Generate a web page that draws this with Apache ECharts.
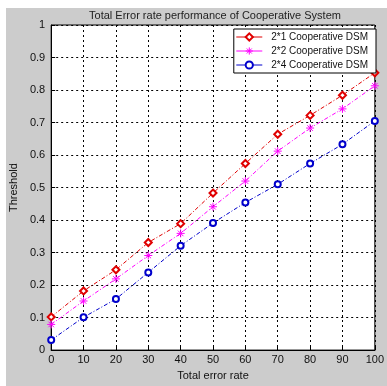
<!DOCTYPE html>
<html><head><meta charset="utf-8">
<script src="https://cdn.jsdelivr.net/npm/echarts@6/dist/echarts.min.js"></script>
<style>html,body{margin:0;padding:0;background:#fff}#c{width:387px;height:386px}</style>
</head><body><div id="c"></div>
<script>
var xCats = [0,10,20,30,40,50,60,70,80,90,100];
var s21 = [0.102,0.182,0.247,0.331,0.389,0.483,0.574,0.664,0.722,0.784,0.853];
var s22 = [0.079,0.151,0.219,0.291,0.359,0.441,0.520,0.612,0.683,0.742,0.813];
var s24 = [0.031,0.101,0.157,0.239,0.321,0.391,0.454,0.510,0.574,0.633,0.705];
var names = ['2*1 Cooperative DSM','2*2 Cooperative DSM','2*4 Cooperative DSM'];
var font = 'Liberation Sans, Arial, sans-serif';
function pairs(a){return xCats.map(function(x,i){return [x,a[i]];});}
var star = 'path://M0,-5L0,5M-5,0L5,0M-3.5,-3.5L3.5,3.5M-3.5,3.5L3.5,-3.5';
var chart = echarts.init(document.getElementById('c'));
chart.setOption({
  backgroundColor:'#ffffff',
  animation:false,
  graphic:[{type:'rect',z:-10,shape:{x:6,y:8,width:381,height:378},style:{fill:'#cccccc'}}],
  title:{text:'Total Error rate performance of Cooperative System',left:210,textAlign:'center',top:5,
    textStyle:{fontFamily:font,fontSize:11,fontWeight:'normal',color:'#222'}},
  grid:{left:44,right:10,top:25,bottom:28,show:true,backgroundColor:'#fff',borderColor:'#000',borderWidth:1},
  legend:{right:11,top:29,orient:'vertical',backgroundColor:'#fff',borderColor:'#000',borderWidth:1,
    padding:[3,8,3,2],itemGap:4,itemWidth:26,itemHeight:9,
    textStyle:{fontFamily:font,fontSize:10,color:'#111',padding:[0,0,0,4]},
    lineStyle:{type:'solid',width:1},itemStyle:{borderWidth:1}},
  xAxis:{type:'value',min:0,max:100,interval:10,name:'Total error rate',nameLocation:'middle',nameGap:16,
    nameTextStyle:{fontFamily:font,fontSize:11,color:'#111'},
    axisLine:{lineStyle:{color:'#000'}},axisTick:{inside:true,length:4,lineStyle:{color:'#000'}},
    axisLabel:{fontFamily:font,fontSize:11,color:'#111',margin:4},
    splitLine:{show:true,lineStyle:{color:'#000',type:[2,3],width:1}}},
  yAxis:{type:'value',min:0,max:1,interval:0.1,name:'Threshold',nameLocation:'middle',nameGap:26,
    nameTextStyle:{fontFamily:font,fontSize:11,color:'#111'},
    axisLine:{lineStyle:{color:'#000'}},axisTick:{inside:true,length:4,lineStyle:{color:'#000'}},
    axisLabel:{fontFamily:font,fontSize:11,color:'#111',margin:6},
    splitLine:{show:true,lineStyle:{color:'#000',type:[2,3],width:1}}},
  series:[
    {name:names[0],type:'line',data:pairs(s21),symbol:'emptyDiamond',symbolSize:7,
      itemStyle:{color:'#e00000',borderWidth:1},lineStyle:{color:'#e00000',width:1,type:[4,2,1,2]}},
    {name:names[1],type:'line',data:pairs(s22),symbol:star,symbolSize:8,
      itemStyle:{color:'#ff00ff',borderColor:'#ff00ff',borderWidth:1},lineStyle:{color:'#ff00ff',width:1,type:[4,2,1,2]}},
    {name:names[2],type:'line',data:pairs(s24),symbol:'emptyCircle',symbolSize:6,
      itemStyle:{color:'#0000cc',borderWidth:1},lineStyle:{color:'#0000cc',width:1,type:[4,2,1,2]}}
  ]
});
</script></body></html>
